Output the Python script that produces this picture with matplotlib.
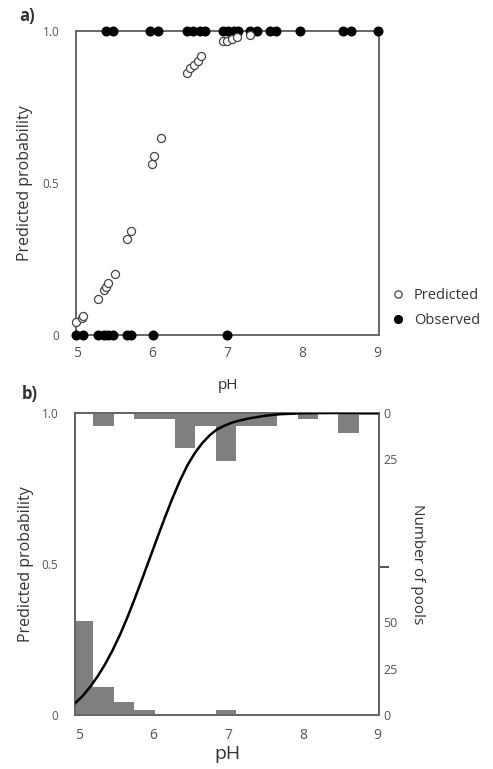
import matplotlib
matplotlib.use("Agg")
import matplotlib.pyplot as plt

plt.rcParams['font.family'] = ['Open Sans', 'DejaVu Sans']

# panel a: predicted probabilities and observed presence/absence
pred_ph = [4.98, 5.06, 5.08, 5.28, 5.35, 5.38, 5.41, 5.50, 5.66, 5.71, 5.99, 6.02, 6.11,
           6.46, 6.50, 6.55, 6.60, 6.64, 6.94, 6.99, 7.06, 7.12, 7.30]
pred_p = [0.044, 0.058, 0.062, 0.118, 0.148, 0.157, 0.172, 0.20, 0.315, 0.343, 0.561, 0.589, 0.649,
          0.861, 0.877, 0.888, 0.902, 0.918, 0.965, 0.968, 0.973, 0.979, 0.987]
obs_present_ph = [5.38, 5.48, 5.97, 6.08, 6.46, 6.54, 6.63, 6.70, 6.94, 7.01, 7.08, 7.14,
                  7.30, 7.39, 7.57, 7.65, 7.97, 8.54, 8.65, 9.0]
obs_absent_ph = [4.98, 5.08, 5.28, 5.35, 5.41, 5.47, 5.66, 5.71, 6.01, 6.99]

# panel b: fitted curve and counts of pools per pH bin
curve_ph = [4.945, 5.05, 5.15, 5.25, 5.35, 5.45, 5.55, 5.65, 5.75, 5.85, 5.95, 6.05, 6.15,
            6.25, 6.35, 6.45, 6.55, 6.65, 6.75, 6.85, 6.95, 7.05, 7.15, 7.3, 7.5, 7.7, 8.0,
            8.5, 9.0]
curve_p = [0.039, 0.064, 0.094, 0.129, 0.169, 0.215, 0.267, 0.325, 0.388, 0.454, 0.521, 0.588,
           0.654, 0.717, 0.775, 0.826, 0.867, 0.9, 0.926, 0.946, 0.958, 0.968, 0.975, 0.983,
           0.991, 0.996, 0.999, 1.0, 1.0]
bin_left = [4.92, 5.193, 5.467, 5.74, 6.013, 6.287, 6.56, 6.833, 7.107, 7.38, 7.653, 7.927, 8.2, 8.473, 8.747]
present_counts = [0, 7, 0, 3, 3, 19, 7, 26, 7, 7, 0, 3, 0, 11, 1]
absent_counts = [51, 15, 7, 3, 0, 0, 0, 3, 0, 0, 0, 0, 0, 0, 0]
bin_w = 0.273
count_max = 163

spine_col = '#666666'
text_col = '#555555'
bar_col = '#7f7f7f'

fig = plt.figure(figsize=(4.93, 7.69), dpi=100)

# ---- panel a ----
ax1 = fig.add_axes([0.154, 0.564, 0.615, 0.396])
ax1.plot(obs_present_ph, [1.0] * len(obs_present_ph), 'o', color='black', ms=6.2,
         clip_on=False, zorder=3, label='Observed')
ax1.plot(obs_absent_ph, [0.0] * len(obs_absent_ph), 'o', color='black', ms=6.2,
         clip_on=False, zorder=3)
ax1.plot(pred_ph, pred_p, 'o', mfc='white', mec='#444444', mew=0.9, ms=5.8,
         clip_on=False, zorder=4, label='Predicted')
ax1.set_xlim(4.98, 9.02)
ax1.set_ylim(0, 1)
ax1.set_xticks([5, 6, 7, 8, 9])
ax1.set_yticks([0, 0.5, 1.0])
ax1.set_yticklabels(['0', '0.5', '1.0'])
ax1.tick_params(axis='both', length=0, colors=text_col)
ax1.tick_params(axis='x', labelsize=10, pad=8)
ax1.tick_params(axis='y', labelsize=8.5, pad=12)
ax1.set_xlabel('pH', fontsize=11, color='#333333', labelpad=12)
ax1.set_ylabel('Predicted probability', fontsize=11.5, color='#333333')
ax1.yaxis.set_label_coords(-0.14, 0.5)
for s in ax1.spines.values():
    s.set_color(spine_col)
    s.set_linewidth(1.4)
h, l = ax1.get_legend_handles_labels()
ax1.legend([h[1], h[0]], [l[1], l[0]], loc='center left', bbox_to_anchor=(0.97, 0.09),
           frameon=False, fontsize=10.5, handletextpad=0.1, labelspacing=0.7,
           markerscale=0.9, labelcolor='#333333')
fig.text(0.04, 0.979, 'a)', fontsize=12, fontweight='bold', color='#333333', va='center')

# ---- panel b ----
ax2 = fig.add_axes([0.152, 0.070, 0.617, 0.393])
ax3 = ax2.twinx()
ax3.bar(bin_left, absent_counts, width=bin_w, align='edge', color=bar_col, edgecolor='none')
ax3.bar(bin_left, present_counts, width=bin_w, align='edge', color=bar_col, edgecolor='none',
        bottom=[count_max - c for c in present_counts])
ax3.set_ylim(0, count_max)
ax3.set_yticks([0, 25, 50, 80, count_max - 25, count_max])
ax3.set_yticklabels(['0', '25', '50', '', '25', '0'])
ax3.tick_params(axis='y', length=0, colors=text_col, labelsize=9, pad=3)
mid_tick = ax3.yaxis.get_major_ticks()[3].tick2line
mid_tick.set_markersize(7)
mid_tick.set_color('#333333')
mid_tick.set_markeredgewidth(1.4)
ax3.set_ylabel('Number of pools', fontsize=11, color='#333333', rotation=-90, labelpad=20)
ax3.plot(curve_ph, [c * count_max for c in curve_p], color='black', lw=1.8, zorder=5,
         solid_joinstyle='round')

ax2.set_xlim(4.945, 9.02)
ax2.set_ylim(0, 1)
ax2.set_xticks([5, 6, 7, 8, 9])
ax2.set_yticks([0, 0.5, 1.0])
ax2.set_yticklabels(['0', '0.5', '1.0'])
ax2.tick_params(axis='both', length=0, colors=text_col)
ax2.tick_params(axis='x', labelsize=10, pad=9)
ax2.tick_params(axis='y', labelsize=8.5, pad=12)
ax2.set_xlabel('pH', fontsize=14, color='#333333', labelpad=2)
ax2.set_ylabel('Predicted probability', fontsize=11.5, color='#333333')
ax2.yaxis.set_label_coords(-0.135, 0.5)
for ax in (ax2, ax3):
    for s in ax.spines.values():
        s.set_color(spine_col)
        s.set_linewidth(1.4)
fig.text(0.045, 0.487, 'b)', fontsize=12, fontweight='bold', color='#333333', va='center')

fig.savefig('out.png', dpi=100)
